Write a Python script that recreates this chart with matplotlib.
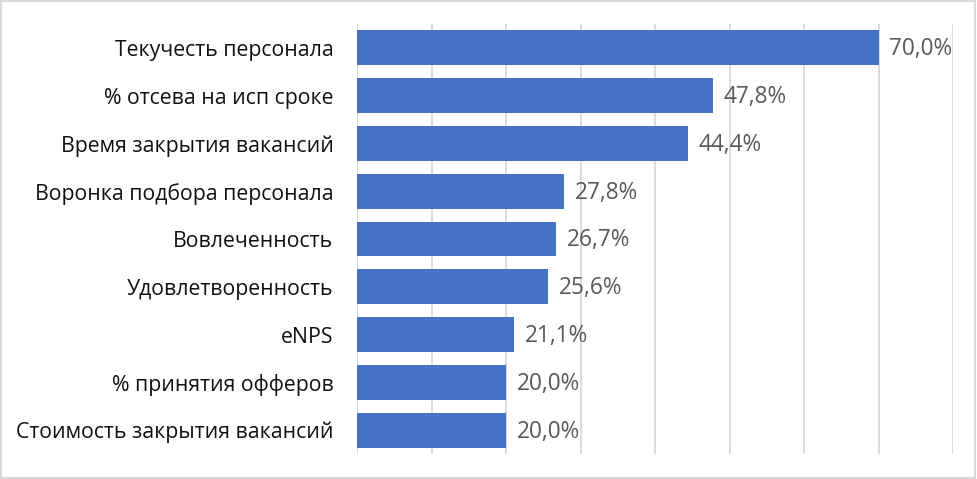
import matplotlib.pyplot as plt
from matplotlib.patches import Rectangle

categories = [
    "Текучесть персонала",
    "% отсева на исп сроке",
    "Время закрытия вакансий",
    "Воронка подбора персонала",
    "Вовлеченность",
    "Удовлетворенность",
    "eNPS",
    "% принятия офферов",
    "Стоимость закрытия вакансий",
]
values = [70.0, 47.8, 44.4, 27.8, 26.7, 25.6, 21.1, 20.0, 20.0]
grid_ticks = [0, 10, 20, 30, 40, 50, 60, 70, 80]

plt.rcParams["font.family"] = ["Open Sans", "DejaVu Sans"]

fig = plt.figure(figsize=(9.77, 4.79), dpi=100, facecolor="white")
ax = fig.add_axes([357 / 977, 1 - 454 / 479, 596 / 977, 430 / 479])

y = list(range(len(categories)))
ax.barh(y, values, height=0.73, color="#4472C4", zorder=3)

for yi, v in zip(y, values):
    ax.text(v + 1.45, yi + 0.03, f"{v:.1f}%".replace(".", ","), va="center", ha="left",
            fontsize=16.3, color="#595959", zorder=4)

ax.set_xlim(0, 80)
ax.set_ylim(len(categories) - 0.5, -0.5)
ax.set_xticks(grid_ticks)
ax.set_xticklabels([])
ax.tick_params(axis="x", length=0)
ax.set_yticks(y)
ax.set_yticklabels(categories, fontsize=15.3, color="#111111")
ax.tick_params(axis="y", length=0, pad=17)
ax.grid(axis="x", color="#d9d9d9", linewidth=1.3, zorder=0)
for s in ax.spines.values():
    s.set_visible(False)

# outer frame
fig.patches.append(Rectangle((0.001, 0.002), 0.997, 0.995, transform=fig.transFigure,
                             fill=False, edgecolor="#d9d9d9", linewidth=1.5))

plt.savefig("out.png", dpi=100, facecolor="white")
plt.close()
